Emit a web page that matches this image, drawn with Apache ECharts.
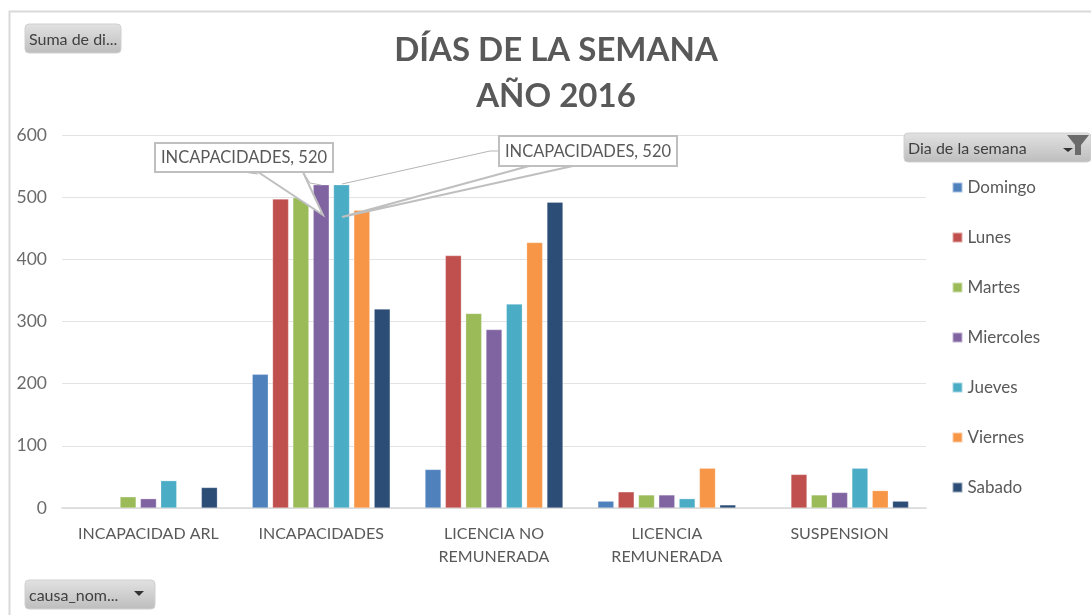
<!DOCTYPE html>
<html><head><meta charset="utf-8">
<style>html,body{margin:0;padding:0;background:#fff}#c{width:1091px;height:615px}</style>
<script src="https://cdn.jsdelivr.net/npm/echarts@6/dist/echarts.min.js"></script>
</head><body><div id="c"></div>
<script>
const categories = ['INCAPACIDAD ARL','INCAPACIDADES','LICENCIA NO\nREMUNERADA','LICENCIA\nREMUNERADA','SUSPENSION'];
const domingo   = [null,215,62,11,null];
const lunes     = [null,497,406,26,54];
const martes    = [18,499,313,21,21];
const miercoles = [15,520,287,21,25];
const jueves    = [44,520,328,15,64];
const viernes   = [null,479,427,64,28];
const sabado    = [33,320,492,5,11];
const seriesNames = ['Domingo','Lunes','Martes','Miercoles','Jueves','Viernes','Sabado'];
const seriesValues = [domingo,lunes,martes,miercoles,jueves,viernes,sabado];
const colors = ['#4F81BD','#C0504D','#9BBB59','#8064A2','#4BACC6','#F79646','#2C4D75'];
const yTicks = {min:0,max:600,interval:100};
const font = 'Lato';
const txt = '#595959';
const calloutText = categories[1] + ', ' + miercoles[1];
const calloutText2 = categories[1] + ', ' + jueves[1];

const btnFill = {type:'linear',x:0,y:0,x2:0,y2:1,colorStops:[{offset:0,color:'#e2e2e2'},{offset:1,color:'#bdbdbd'}]};
function button(x,y,w,h,label){
  return [
    {type:'rect',z:60,shape:{x,y,width:w,height:h,r:4},style:{fill:btnFill,stroke:'#d0d0d0',lineWidth:1}},
    {type:'text',z:61,style:{x:x+4,y:y+h/2+1.5,text:label,fill:'#404040',font:'16px '+font,textVerticalAlign:'middle'}}
  ];
}
function callout(box,wedge,leader,label){
  return [
    {type:'polyline',z:50,shape:{points:leader},style:{stroke:'#b5b5b5',lineWidth:1,fill:null}},
    {type:'polygon',z:51,shape:{points:wedge},style:{fill:'#fff',stroke:'#bfbfbf',lineWidth:2}},
    {type:'rect',z:52,shape:{x:box[0],y:box[1],width:box[2],height:box[3]},style:{fill:'#fff',stroke:'#bfbfbf',lineWidth:2}},
    {type:'text',z:53,style:{x:box[0]+box[2]/2,y:box[1]+box[3]/2+0.5,text:label,fill:txt,font:'16.5px '+font,textAlign:'center',textVerticalAlign:'middle'}}
  ];
}
const graphics = [
  {type:'polyline',z:1,shape:{points:[[9.5,615],[9.5,11.5],[1091,11.5]]},style:{stroke:'#d9d9d9',lineWidth:2,fill:null}},
  ...callout([155,143,178,29],[[258,172],[323,215],[303,172]],[[243,172],[258,174]],calloutText),
  {type:'polyline',z:50,shape:{points:[[304,174],[310,183],[321,185]]},style:{stroke:'#b5b5b5',lineWidth:1,fill:null}},
  ...callout([499,136,178,30],[[529,166],[342,217],[573,166]],[[499,151],[490,151],[342,184]],calloutText2),
  ...button(25,24,96,29,'Suma de di...'),
  ...button(904,133,187,29,'Dia de la semana'),
  ...button(25,580,130,29,'causa_nom...'),
  {type:'polygon',z:62,shape:{points:[[134,591],[144,591],[139,596]]},style:{fill:'#333'}},
  {type:'polygon',z:62,shape:{points:[[1063,148],[1073,148],[1068,152]]},style:{fill:'#333'}},
  {type:'polygon',z:62,shape:{points:[[1067,135],[1089,135],[1081,145],[1081,155],[1075,155],[1075,145]]},style:{fill:'#6b6b6b'}}
];

const chart = echarts.init(document.getElementById('c'),null,{renderer:'canvas'});
chart.setOption({
  animation:false,
  backgroundColor:'#fff',
  color:colors,
  textStyle:{fontFamily:font},
  title:{text:'DÍAS DE LA SEMANA\nAÑO 2016',left:551,top:22,textAlign:'center',
    textStyle:{fontFamily:font,fontSize:33,fontWeight:'bold',color:txt,lineHeight:46}},
  grid:{left:62,right:165,top:135,bottom:107,containLabel:false},
  legend:{orient:'vertical',left:946.5,top:174,itemWidth:10,itemHeight:10,itemGap:33,
    icon:'rect',data:seriesNames,selectedMode:false,
    textStyle:{fontFamily:font,fontSize:17,color:txt}},
  xAxis:{type:'category',data:categories,
    axisTick:{show:false},
    axisLine:{lineStyle:{color:'#d9d9d9',width:1.5}},
    axisLabel:{color:txt,fontFamily:font,fontSize:16,lineHeight:23,margin:14,interval:0}},
  yAxis:{type:'value',min:yTicks.min,max:yTicks.max,interval:yTicks.interval,
    axisLine:{show:false},axisTick:{show:false},
    splitLine:{lineStyle:{color:'#e3e3e3',width:1}},
    axisLabel:{color:'#6b6b6b',fontFamily:font,fontSize:17.5,margin:15}},
  series:seriesNames.map((n,i)=>({name:n,type:'bar',data:seriesValues[i],barWidth:16,barGap:'27%',
    itemStyle:{color:colors[i],borderColor:'rgba(255,255,255,0.5)',borderWidth:0.5}})),
  graphic:graphics
});
</script></body></html>
